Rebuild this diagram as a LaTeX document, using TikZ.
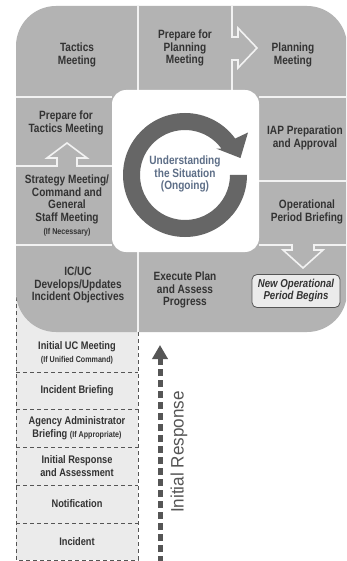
\documentclass[tikz,border=0pt]{standalone}
\usepackage{fontspec}
\setmainfont{Liberation Sans}[FakeStretch=0.84]
\newfontfamily\irfont{Liberation Sans}[FakeStretch=0.95]
\usetikzlibrary{arrows.meta,calc}
\definecolor{cellgray}{HTML}{B3B3B3}
\definecolor{lightfill}{HTML}{EBEBEB}
\definecolor{ringgray}{HTML}{666666}
\definecolor{slate}{RGB}{93,110,135}
\definecolor{txt}{HTML}{333333}
\definecolor{dashgray}{HTML}{555555}
\definecolor{sepline}{HTML}{F2F2F2}
\tikzset{
  cell/.style={align=center, text=txt, inner sep=0pt,
    font=\bfseries\fontsize{12}{12.5}\selectfont},
  stackcell/.style={align=center, text=txt, inner sep=0pt,
    font=\bfseries\fontsize{11}{12.8}\selectfont},
  sepline/.style={draw=sepline, line width=1.6pt, line join=miter},
  stackdash/.style={draw=dashgray, line width=0.7pt, dash pattern=on 4pt off 3pt},
  newbox/.style={draw=dashgray, fill=lightfill, line width=0.8pt, rounded corners=5pt,
    minimum width=88pt, minimum height=33pt, align=center, text=txt, inner sep=0pt,
    font=\bfseries\itshape\fontsize{11.5}{12}\selectfont},
}
\newcommand{\smalltxt}[1]{{\fontsize{8.5}{10}\selectfont #1}}
\begin{document}
\begin{tikzpicture}[x=1pt,y=-1pt]
\useasboundingbox (0,0) rectangle (346,561);
\fill[white] (0,0) rectangle (346,561);
\clip (0,0) rectangle (346,561);

% lower stack (behind)
\path[fill=lightfill, stackdash] (16,262) rectangle (138,560);
\foreach \yy in {372,409,447,485,523}{
  \draw[stackdash] (16,\yy) -- (138,\yy);
}

% big gray shape
\fill[cellgray, rounded corners=40pt] (16,6) rectangle (347,332);

% separator lines
\draw[sepline] (138,6) -- (138,90);
\draw[sepline] (232,6) -- (232,37) -- (238,37) -- (238,28) -- (257,48)
  -- (238,68) -- (238,60) -- (232,60) -- (232,90);
\draw[sepline] (16,97) -- (112,97);
\draw[sepline] (259,97) -- (346,97);
\draw[sepline] (16,166) -- (57,166) -- (57,158) -- (47,158) -- (67,143)
  -- (87,158) -- (77,158) -- (77,166) -- (112,166);
\draw[sepline] (16,245) -- (112,245);
\draw[sepline] (138,252) -- (138,332);
\draw[sepline] (259,181) -- (346,181);
\draw[sepline] (259,245) -- (292,245) -- (292,250) -- (283,250) -- (303,268)
  -- (323,250) -- (314,250) -- (314,245) -- (346,245);

% center box
\fill[white, rounded corners=14pt] (112,90) rectangle (259,252);

% ring arrow
\coordinate (rc) at (185,175);
\fill[ringgray] ($(rc)+(0:62)$) arc[start angle=0, end angle=324, radius=62]
  -- ($(rc)+(326:76)$) -- ($(rc)+(343:58)$) -- ($(rc)+(320:41)$)
  -- ($(rc)+(324:45)$) arc[start angle=324, end angle=0, radius=45] -- cycle;
\node[cell, text=slate] (und) at (185,174) {Understanding\\the Situation\\(Ongoing)};

% cell texts
\node[cell] (tac) at (77,55) {Tactics\\Meeting};
\node[cell] (ppm) at (185,48) {Prepare for\\Planning\\Meeting};
\node[cell] (pm) at (293,55) {Planning\\Meeting};
\node[cell] (ptm) at (66,123) {Prepare for\\Tactics Meeting};
\node[cell] (sm) at (67,206) {Strategy Meeting/\\Command and\\General\\Staff Meeting\\[1pt]\smalltxt{(If Necessary)}};
\node[cell] (iap) at (305,138) {IAP Preparation\\and Approval};
\node[cell] (opb) at (307,212) {Operational\\Period Briefing};
\node[cell] (icuc) at (78,285) {IC/UC\\Develops/Updates\\Incident Objectives};
\node[cell] (exe) at (185,290) {Execute Plan\\and Assess\\Progress};
\node[newbox] (nop) at (296,291) {New Operational\\Period Begins};

% stack texts
\node[stackcell] (s1) at (77,353) {Initial UC Meeting\\\smalltxt{(If Unified Command)}};
\node[stackcell] (s2) at (77,391) {Incident Briefing};
\node[stackcell] (s3) at (77,428) {Agency Administrator\\Briefing \smalltxt{(If Appropriate)}};
\node[stackcell] (s4) at (77,466) {Initial Response\\and Assessment};
\node[stackcell] (s5) at (77,504) {Notification};
\node[stackcell] (s6) at (77,542) {Incident};

% initial response arrow
\coordinate (irbot) at (160,563);
\coordinate (irtop) at (160,345);
\draw[dashgray, line width=5pt, dash pattern=on 7pt off 4pt,
  -{Triangle[width=15pt,length=14pt]}] (irbot) -- (irtop);
\node[rotate=90, text=dashgray, inner sep=0pt,
  font=\irfont\fontsize{18}{18}\selectfont] (irl) at (179,452) {Initial Response};
\end{tikzpicture}
\end{document}
